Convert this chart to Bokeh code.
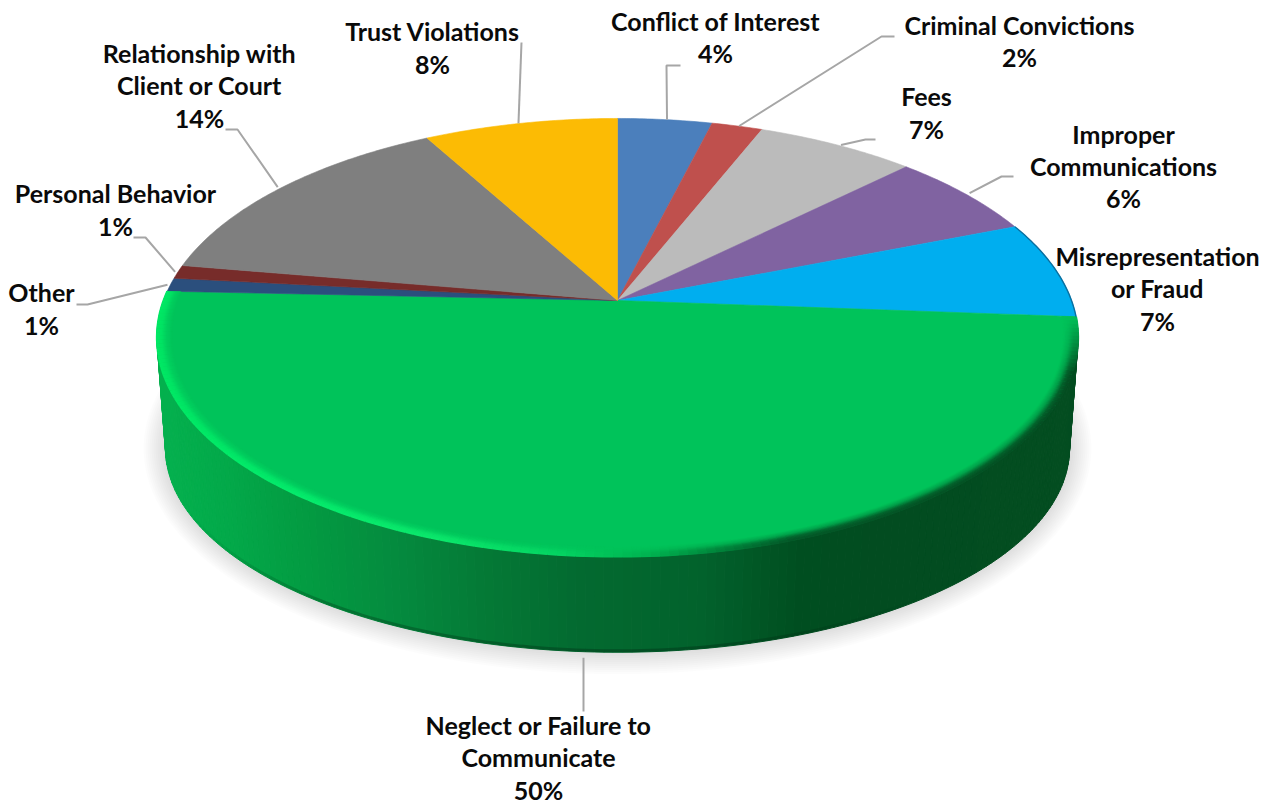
import numpy as np
from bokeh.plotting import figure
from bokeh.models import ColumnDataSource
from bokeh.core.properties import value
from bokeh.embed import file_html
from bokeh.resources import INLINE

# ---------- data (clockwise from 12 o'clock) ----------
categories = ["Conflict of Interest", "Criminal Convictions", "Fees", "Improper Communications",
              "Misrepresentation or Fraud", "Neglect or Failure to Communicate", "Other",
              "Personal Behavior", "Relationship with Client or Court", "Trust Violations"]
shares = [3.9, 2.1, 6.6, 6.4, 7.2, 49.5, 1.0, 1.0, 14.3, 8.0]
colors = ["#4b7fbc", "#bf504d", "#bbbbbb", "#8063a1", "#00aeef", "#00c35a", "#2b4f7d", "#772c2a", "#7f7f7f", "#fcbb04"]
label_lines = [["Conflict of Interest"], ["Criminal Convictions"], ["Fees"], ["Improper", "Communications"],
               ["Misrepresentation", "or Fraud"], ["Neglect or Failure to", "Communicate"], ["Other"],
               ["Personal Behavior"], ["Relationship with", "Client or Court"], ["Trust Violations"]]

# ---------- layout (reference pixel space) ----------
label_x = [715, 1019, 926, 1123, 1157, 538, 41, 115, 199, 432]
label_baseline = [20, 24, 95, 133, 255, 724, 291, 192, 52, 30]
line_step = [32, 32, 33, 32, 32.5, 32.5, 33, 33, 32.5, 33]
leader_nudge = [(2, 0), (2, 0), (4, 0), (4, -1), None, (0, 0), (-3, 0), (-3, 0), (-3, -1), (-2, 0)]
leader_path = [[(666, 65), (680, 65)], [(881, 36), (894, 36)], [(865, 139), (875, 139)], [(1001, 176), (1013, 176)],
               None, [(583, 711)], [(87, 304), (76, 304)], [(145, 237), (133, 237)], [(237, 129), (225, 129)], [(521, 42)]]
CX, CY = 617.0, 300.0
K = 0.169
TOP_A, TOP_B = 454.0, 212.8
BOT_A, BOT_B, BOT_Y = 445.5, 198.0, 413.5
side_x = [165, 220, 300, 400, 480, 580, 700, 800, 880, 1075]
side_rgb = [(4, 176, 78), (3, 170, 74), (3, 156, 66), (4, 138, 62), (4, 122, 54), (3, 106, 48), (2, 98, 44), (0, 78, 32), (2, 76, 32), (3, 77, 32)]
edge_x = [155, 300, 430, 560, 650, 720, 790, 1080]
edge_rgb = [(0, 232, 100), (5, 235, 108), (12, 232, 108), (5, 212, 98), (0, 178, 80), (0, 130, 58), (4, 88, 40), (4, 78, 34)]


def top(theta, r=1.0):
    u, v = r * np.sin(theta), r * np.cos(theta)
    w = 1 + K * v
    return CX + TOP_A * u / w, CY - TOP_B * v / w


def bottom(theta, r=1.0):
    u, v = r * np.sin(theta), r * np.cos(theta)
    w = 1 + K * v
    return CX + BOT_A * u / w, BOT_Y - BOT_B * v / w


def hexc(rgb):
    return "#%02x%02x%02x" % tuple(int(round(c)) for c in rgb)


def lerp_stops(x, xs, rgbs):
    return tuple(np.interp(x, xs, [c[i] for c in rgbs]) for i in range(3))


edges = np.cumsum([0] + shares) / sum(shares) * 2 * np.pi
p = figure(width=1274, height=804, x_range=(0, 1274), y_range=(804, 0), output_backend="svg",
           toolbar_location=None, min_border=0, outline_line_color=None)
p.axis.visible = False
p.grid.visible = False
p.background_fill_color = "white"
p.border_fill_color = "white"

# soft shadow under the disc
full = np.linspace(0, 2 * np.pi, 241)
for grow in range(22, 0, -2):
    bx, by = bottom(full)
    sx = CX + (bx - CX) * (452 + grow) / 452
    sy = 448 + (by - 448) * (204 + grow) / 204
    p.patch(list(sx), list(sy), fill_color="black", fill_alpha=0.012, line_color=None)

# side of the neglect slice, shaded along its length
g = categories.index("Neglect or Failure to Communicate")
th = np.linspace(edges[g], edges[g + 1], 181)
xs, ys, cs = [], [], []
for a, b in zip(th[:-1], th[1:]):
    tx = np.array([top(a)[0], top(b)[0], bottom(b)[0], bottom(a)[0]])
    ty = np.array([top(a)[1], top(b)[1], bottom(b)[1], bottom(a)[1]])
    xs.append(list(tx)); ys.append(list(ty))
    cs.append(hexc(lerp_stops(tx.mean(), side_x, side_rgb)))
p.patches(xs="x", ys="y", fill_color="c", line_color="c", line_width=1.0,
          source=ColumnDataSource(dict(x=xs, y=ys, c=cs)))

# dark contact line along the lower rim
bx, by = bottom(th)
segs_x, segs_y, seg_a = [], [], []
for i in range(len(th) - 1):
    mx = (bx[i] + bx[i + 1]) / 2
    segs_x.append([bx[i], bx[i + 1]]); segs_y.append([by[i] - 1.5, by[i + 1] - 1.5])
    seg_a.append(float(np.interp(mx, [190, 330, 700, 920], [0.0, 0.22, 0.22, 0.0])))
p.multi_line(xs="x", ys="y", line_color="black", line_alpha="a", line_width=3,
             source=ColumnDataSource(dict(x=segs_x, y=segs_y, a=seg_a)))

# top face
for i, c in enumerate(colors):
    a = np.linspace(edges[i], edges[i + 1], max(4, int(shares[i] * 6)))
    x, y = top(a)
    p.patch([CX] + list(x), [CY] + list(y), fill_color=c, line_color=c, line_width=0.6)

# bevel on the rim of the large slice: fine layers that fade into the face
base = np.array([0, 195, 90], float)
bevel_r = np.linspace(0.970, 1.0, 14)
for r in bevel_r:
    t = (r - bevel_r[0]) / (bevel_r[-1] - bevel_r[0])
    wgt = float(np.interp(t, [0, 0.35, 0.7, 1], [0.03, 0.3, 0.85, 1.0]))
    rx, ry = top(th, r)
    segs_x, segs_y, seg_c = [], [], []
    for i in range(len(th) - 1):
        mx = (rx[i] + rx[i + 1]) / 2
        col = np.array(lerp_stops(mx, edge_x, edge_rgb))
        fade = float(np.interp(np.degrees(th[i]) - np.degrees(th[0]), [0, 14], [0.05, 1.0]))
        segs_x.append([rx[i], rx[i + 1]]); segs_y.append([ry[i], ry[i + 1]])
        seg_c.append(hexc(base + (col - base) * wgt * fade))
    p.multi_line(xs="x", ys="y", line_color="c", line_width=2.0,
                 source=ColumnDataSource(dict(x=segs_x, y=segs_y, c=seg_c)))

# thin dark edge on the rim of the cyan slice
m = categories.index("Misrepresentation or Fraud")
rx, ry = top(np.linspace(edges[m], edges[m + 1], 30))
p.line(list(rx), list(ry), line_color="#0a6f9f", line_width=1.4)

# leader lines
for i, path in enumerate(leader_path):
    if path is None:
        continue
    mid = (edges[i] + edges[i + 1]) / 2
    if i == g:
        ax, ay = bottom(mid)
        ax, ay = path[0][0], ay + 6
    else:
        ax, ay = top(mid)
        ax, ay = ax + leader_nudge[i][0], ay + leader_nudge[i][1]
    p.line([ax] + [q[0] for q in path], [ay] + [q[1] for q in path], line_color="#a6a6a6", line_width=2)

# labels
tx, ty, tt = [], [], []
for i, lines in enumerate(label_lines):
    rows = lines + [f"{round(shares[i])}%"]
    for j, s in enumerate(rows):
        tx.append(label_x[i]); ty.append(label_baseline[i] + j * line_step[i]); tt.append(s)
p.text(x="x", y="y", text="t", source=ColumnDataSource(dict(x=tx, y=ty, t=tt)),
       text_font=value("Lato"), text_font_style="bold", text_font_size="25px", text_color="#0a0a0a",
       text_align="center", text_baseline="alphabetic")

open("out.html", "w").write(file_html(p, INLINE))
